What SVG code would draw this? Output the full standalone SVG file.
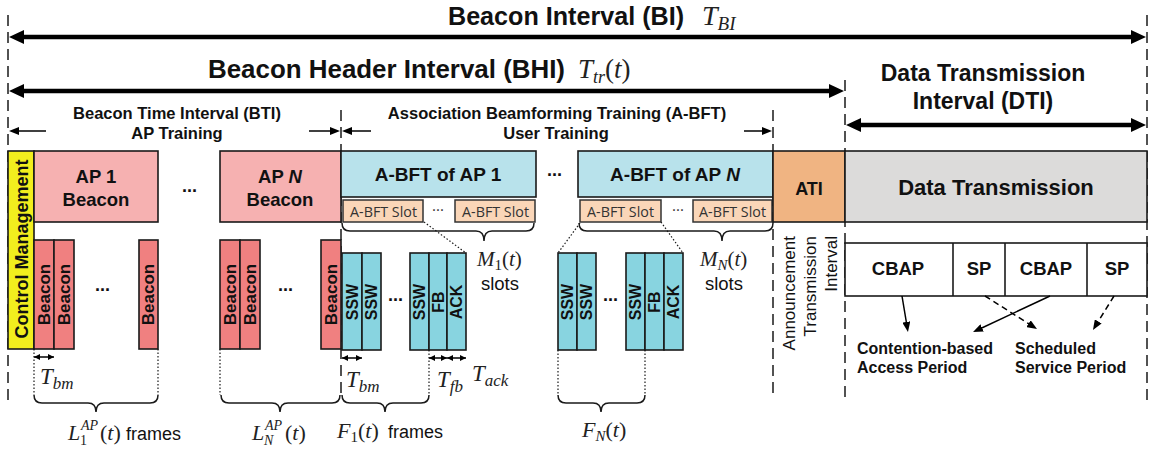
<svg xmlns="http://www.w3.org/2000/svg" width="1151" height="452" viewBox="0 0 1151 452">
<defs>
<style>
.s{font-family:"Liberation Sans",Arial,sans-serif;fill:#111}
.b{font-weight:bold}
.m{font-family:"Liberation Serif","Times New Roman",serif;font-style:italic;fill:#222}
.up{font-style:normal}
.box{stroke:#1a1a1a;stroke-width:1.6}
.fr{stroke:#1a1a1a;stroke-width:1.6}
.slot{fill:#FAD6B8;stroke:#333;stroke-width:1.5}
.slt{font-family:"Open Sans","Noto Sans",sans-serif;font-size:15px;fill:#333}
.dash{stroke:#1a1a1a;stroke-width:1.5;stroke-dasharray:11,6;fill:none}
.dot{stroke:#1a1a1a;stroke-width:1.2;stroke-dasharray:1.5,2;fill:none}
.brace{stroke:#1a1a1a;stroke-width:1.5;fill:none}
.thick{stroke:#000;stroke-width:4.5;fill:none}
.thin{stroke:#000;stroke-width:1.5;fill:none}
.rot{dominant-baseline:central;text-anchor:middle}
</style>
<marker id="big" markerUnits="userSpaceOnUse" viewBox="0 0 16 14" markerWidth="16" markerHeight="14" refX="1" refY="7" orient="auto-start-reverse"><path d="M0,0 L15,7 L0,14 z" fill="#000"/></marker>
<marker id="sm" markerUnits="userSpaceOnUse" viewBox="0 0 10 8" markerWidth="10" markerHeight="8" refX="1" refY="4" orient="auto-start-reverse"><path d="M0,0 L10,4 L0,8 z" fill="#000"/></marker>
<marker id="tiny" markerUnits="userSpaceOnUse" viewBox="0 0 6 6" markerWidth="6" markerHeight="6" refX="6" refY="3" orient="auto-start-reverse"><path d="M0,0 L6,3 L0,6 z" fill="#000"/></marker>
</defs>
<rect width="1151" height="452" fill="#fff"/>

<g id="guides">
<line class="dash" x1="8" y1="15" x2="8" y2="400"/>
<line class="dash" x1="341" y1="110" x2="341" y2="397"/>
<line class="dash" x1="773" y1="110" x2="773" y2="397"/>
<line class="dash" x1="845" y1="80" x2="845" y2="397"/>
<line class="dash" x1="1147" y1="15" x2="1147" y2="402"/>
</g>

<g id="bi">
<text class="s b" x="448" y="25" font-size="25" textLength="236" lengthAdjust="spacingAndGlyphs">Beacon Interval (BI)</text>
<text class="m" x="702" y="25" font-size="28">T<tspan font-size="19" dy="5">BI</tspan></text>
</g>
<g id="bhi">
<text class="s b" x="208" y="78" font-size="25" textLength="357" lengthAdjust="spacingAndGlyphs">Beacon Header Interval (BHI)</text>
<text class="m" x="578" y="78" font-size="27">T<tspan font-size="18" dy="5">tr</tspan><tspan class="up" dy="-5">(</tspan>t<tspan class="up">)</tspan></text>
</g>
<g id="dti">
<text class="s b" x="983" y="81" font-size="23" text-anchor="middle">Data Transmission</text>
<text class="s b" x="983" y="109" font-size="23" text-anchor="middle">Interval (DTI)</text>
</g>
<g id="bti">
<text class="s b" x="177" y="119" font-size="16.5" text-anchor="middle">Beacon Time Interval (BTI)</text>
<text class="s b" x="177" y="139" font-size="16.5" text-anchor="middle">AP Training</text>
</g>
<g id="abft">
<text class="s b" x="557" y="119" font-size="16.5" text-anchor="middle">Association Beamforming Training (A-BFT)</text>
<text class="s b" x="556" y="139" font-size="16.5" text-anchor="middle">User Training</text>
</g>

<g id="control">
<rect class="box" x="8" y="151" width="26" height="198" fill="#F2EE1E"/>
<text class="s b rot" transform="translate(22,249) rotate(-90)" font-size="18">Control Management</text>
</g>
<g id="ap1">
<rect class="box" x="34" y="151" width="124" height="71" fill="#F6B1B1"/>
<text class="s b" x="96" y="183" font-size="18.5" text-anchor="middle">AP 1</text>
<text class="s b" x="96" y="206" font-size="18.5" text-anchor="middle">Beacon</text>
</g>
<text class="s b" x="182" y="192" font-size="18">...</text>
<g id="apn">
<rect class="box" x="220" y="151" width="121" height="71" fill="#F6B1B1"/>
<text class="s b" x="280" y="183" font-size="18.5" text-anchor="middle">AP <tspan font-style="italic">N</tspan></text>
<text class="s b" x="280" y="206" font-size="18.5" text-anchor="middle">Beacon</text>
</g>
<g id="abft1">
<rect class="box" x="341" y="151" width="195" height="46" fill="#B8E2EB"/>
<text class="s b" x="438" y="181" font-size="19" text-anchor="middle">A-BFT of AP 1</text>
<rect class="slot" x="343" y="200" width="80" height="22"/>
<text class="slt" x="350" y="217" font-size="16" textLength="67" lengthAdjust="spacingAndGlyphs">A-BFT Slot</text>
<text class="slt" x="432" y="215" font-size="14">···</text>
<rect class="slot" x="455" y="200" width="80" height="22"/>
<text class="slt" x="462" y="217" font-size="16" textLength="67" lengthAdjust="spacingAndGlyphs">A-BFT Slot</text>
</g>
<text class="s b" x="547" y="176" font-size="18">...</text>
<g id="abftn">
<rect class="box" x="578" y="151" width="195" height="46" fill="#B8E2EB"/>
<text class="s b" x="675" y="181" font-size="19" text-anchor="middle">A-BFT of AP <tspan font-style="italic">N</tspan></text>
<rect class="slot" x="580" y="200" width="81" height="22"/>
<text class="slt" x="587" y="217" font-size="16" textLength="67" lengthAdjust="spacingAndGlyphs">A-BFT Slot</text>
<text class="slt" x="672" y="215" font-size="14">···</text>
<rect class="slot" x="693" y="200" width="79" height="22"/>
<text class="slt" x="699" y="217" font-size="16" textLength="67" lengthAdjust="spacingAndGlyphs">A-BFT Slot</text>
</g>
<g id="ati">
<rect class="box" x="773" y="151" width="72" height="71" fill="#F0B482"/>
<text class="s b" x="809" y="195" font-size="18" text-anchor="middle">ATI</text>
<text class="s" fill="#333" transform="translate(795,236) rotate(-90)" font-size="17" text-anchor="end">Announcement</text>
<text class="s" fill="#333" transform="translate(816,236) rotate(-90)" font-size="17" text-anchor="end">Transmission</text>
<text class="s" fill="#333" transform="translate(837,236) rotate(-90)" font-size="17" text-anchor="end">Interval</text>
</g>
<g id="data">
<rect class="box" x="845" y="151" width="302" height="71" fill="#DCDBDA"/>
<text class="s b" x="996" y="195" font-size="22" text-anchor="middle">Data Transmission</text>
</g>

<g id="beacons1">
<rect class="fr" x="34" y="240" width="20" height="109" fill="#F08080"/>
<rect class="fr" x="54" y="240" width="20" height="109" fill="#F08080"/>
<rect class="fr" x="139" y="240" width="19" height="109" fill="#F08080"/>
<text class="s b rot" transform="translate(44,294.5) rotate(-90)" font-size="17">Beacon</text>
<text class="s b rot" transform="translate(64,294.5) rotate(-90)" font-size="17">Beacon</text>
<text class="s b rot" transform="translate(148.5,294.5) rotate(-90)" font-size="17">Beacon</text>
<text class="s b" x="95" y="291" font-size="18">...</text>
</g>
<g id="beaconsn">
<rect class="fr" x="220" y="240" width="20" height="109" fill="#F08080"/>
<rect class="fr" x="240" y="240" width="20" height="109" fill="#F08080"/>
<rect class="fr" x="321" y="240" width="20" height="109" fill="#F08080"/>
<text class="s b rot" transform="translate(230,294.5) rotate(-90)" font-size="17">Beacon</text>
<text class="s b rot" transform="translate(250,294.5) rotate(-90)" font-size="17">Beacon</text>
<text class="s b rot" transform="translate(331,294.5) rotate(-90)" font-size="17">Beacon</text>
<text class="s b" x="278" y="291" font-size="18">...</text>
</g>
<g id="ssw1">
<rect class="fr" x="342" y="253" width="20" height="97" fill="#88D4E0"/>
<rect class="fr" x="362" y="253" width="19" height="97" fill="#88D4E0"/>
<rect class="fr" x="410" y="253" width="19" height="97" fill="#88D4E0"/>
<rect class="fr" x="429" y="253" width="18" height="97" fill="#88D4E0"/>
<rect class="fr" x="447" y="253" width="19" height="97" fill="#88D4E0"/>
<text class="s b rot" transform="translate(352,302) rotate(-90)" font-size="16">SSW</text>
<text class="s b rot" transform="translate(371.5,302) rotate(-90)" font-size="16">SSW</text>
<text class="s b rot" transform="translate(419.5,302) rotate(-90)" font-size="16">SSW</text>
<text class="s b rot" transform="translate(438,302) rotate(-90)" font-size="16">FB</text>
<text class="s b rot" transform="translate(456.5,302) rotate(-90)" font-size="16">ACK</text>
<text class="s b" x="388" y="301" font-size="18">...</text>
</g>
<g id="sswn">
<rect class="fr" x="558" y="253" width="19" height="97" fill="#88D4E0"/>
<rect class="fr" x="577" y="253" width="19" height="97" fill="#88D4E0"/>
<rect class="fr" x="626" y="253" width="19" height="97" fill="#88D4E0"/>
<rect class="fr" x="645" y="253" width="19" height="97" fill="#88D4E0"/>
<rect class="fr" x="664" y="253" width="19" height="97" fill="#88D4E0"/>
<text class="s b rot" transform="translate(567.5,302) rotate(-90)" font-size="16">SSW</text>
<text class="s b rot" transform="translate(586.5,302) rotate(-90)" font-size="16">SSW</text>
<text class="s b rot" transform="translate(635.5,302) rotate(-90)" font-size="16">SSW</text>
<text class="s b rot" transform="translate(654.5,302) rotate(-90)" font-size="16">FB</text>
<text class="s b rot" transform="translate(673.5,302) rotate(-90)" font-size="16">ACK</text>
<text class="s b" x="603" y="301" font-size="18">...</text>
</g>

<g id="slotlabels">
<text class="m" x="477" y="266" font-size="21">M<tspan class="up" font-size="15" dy="4">1</tspan><tspan class="up" dy="-4">(</tspan>t<tspan class="up">)</tspan></text>
<text class="s" x="500" y="290" font-size="18.5" text-anchor="middle">slots</text>
<text class="m" x="700" y="266" font-size="21">M<tspan font-size="15" dy="4">N</tspan><tspan class="up" dy="-4">(</tspan>t<tspan class="up">)</tspan></text>
<text class="s" x="724" y="290" font-size="18.5" text-anchor="middle">slots</text>
</g>

<g id="dtirow">
<rect class="box" x="845" y="243" width="302" height="53" fill="#fff"/>
<line class="box" x1="953" y1="243" x2="953" y2="296"/>
<line class="box" x1="1005" y1="243" x2="1005" y2="296"/>
<line class="box" x1="1087" y1="243" x2="1087" y2="296"/>
<text class="s b" x="898" y="275" font-size="18.5" text-anchor="middle">CBAP</text>
<text class="s b" x="979" y="275" font-size="18.5" text-anchor="middle">SP</text>
<text class="s b" x="1046" y="275" font-size="18.5" text-anchor="middle">CBAP</text>
<text class="s b" x="1117" y="275" font-size="18.5" text-anchor="middle">SP</text>
</g>
<g id="cbap-label">
<text class="s b" x="857" y="354" font-size="16">Contention-based</text>
<text class="s b" x="857" y="373" font-size="16">Access Period</text>
</g>
<g id="sp-label">
<text class="s b" x="1015" y="354" font-size="16">Scheduled</text>
<text class="s b" x="1015" y="373" font-size="16">Service Period</text>
</g>

<g id="timing">
<text class="m" x="40" y="384" font-size="23">T<tspan font-size="17" dy="5">bm</tspan></text>
<text class="m" x="346" y="387" font-size="23">T<tspan font-size="17" dy="5">bm</tspan></text>
<text class="m" x="437" y="387" font-size="23">T<tspan font-size="17" dy="5">fb</tspan></text>
<text class="m" x="472" y="381" font-size="23">T<tspan font-size="17" dy="5">ack</tspan></text>
<text class="m" x="68" y="440" font-size="22">L<tspan font-size="14" x="81" y="430">AP</tspan><tspan class="up" font-size="14" x="80" y="445">1</tspan><tspan class="up" x="100" y="440">(</tspan>t<tspan class="up">)</tspan></text>
<text class="s" x="126" y="440" font-size="18">frames</text>
<text class="m" x="252" y="440" font-size="22">L<tspan font-size="14" x="265" y="430">AP</tspan><tspan font-size="14" x="264" y="445">N</tspan><tspan class="up" x="285" y="440">(</tspan>t<tspan class="up">)</tspan></text>
<text class="m" x="337" y="438" font-size="22">F<tspan class="up" font-size="15" dy="4">1</tspan><tspan class="up" dy="-4">(</tspan>t<tspan class="up">)</tspan></text>
<text class="s" x="388" y="438" font-size="18">frames</text>
<text class="m" x="582" y="437" font-size="22">F<tspan font-size="15" dy="4">N</tspan><tspan class="up" dy="-4">(</tspan>t<tspan class="up">)</tspan></text>
</g>

<g id="connectors">
<line class="thick" x1="23" y1="37" x2="1132" y2="37" marker-start="url(#big)" marker-end="url(#big)"/>
<line class="thick" x1="23" y1="91" x2="830" y2="91" marker-start="url(#big)" marker-end="url(#big)"/>
<line class="thick" x1="860" y1="125" x2="1132" y2="125" marker-start="url(#big)" marker-end="url(#big)"/>
<line class="thin" x1="46" y1="131" x2="18" y2="131" marker-end="url(#sm)"/>
<line class="thin" x1="309" y1="131" x2="331" y2="131" marker-end="url(#sm)"/>
<line class="thin" x1="371" y1="131" x2="351" y2="131" marker-end="url(#sm)"/>
<line class="thin" x1="744" y1="131" x2="763" y2="131" marker-end="url(#sm)"/>
<line class="thin" x1="902" y1="296" x2="906.5" y2="323" marker-end="url(#sm)"/>
<line class="thin" x1="1050" y1="296" x2="981.2" y2="328.2" marker-end="url(#sm)"/>
<line class="thin" stroke-dasharray="6,4" x1="985" y1="296" x2="1029.4" y2="324.2" marker-end="url(#sm)"/>
<line class="thin" stroke-dasharray="6,4" x1="1114" y1="296" x2="1097.7" y2="322.3" marker-end="url(#sm)"/>
<line class="thin" stroke-width="1.2" x1="34" y1="357" x2="54" y2="357" marker-start="url(#tiny)" marker-end="url(#tiny)"/>
<line class="thin" stroke-width="1.2" x1="342" y1="358" x2="362" y2="358" marker-start="url(#tiny)" marker-end="url(#tiny)"/>
<line class="thin" stroke-width="1.2" x1="429" y1="358" x2="447" y2="358" marker-start="url(#tiny)" marker-end="url(#tiny)"/>
<line class="thin" stroke-width="1.2" x1="447" y1="358" x2="466" y2="358" marker-start="url(#tiny)" marker-end="url(#tiny)"/>
<line class="dot" x1="34" y1="349" x2="34" y2="395"/>
<line class="dot" x1="158" y1="349" x2="158" y2="395"/>
<line class="dot" x1="220" y1="349" x2="220" y2="395"/>
<line class="dot" x1="429" y1="350" x2="429" y2="395"/>
<line class="dot" x1="558" y1="350" x2="558" y2="395"/>
<line class="dot" x1="645" y1="350" x2="645" y2="395"/>
<line class="dot" x1="424" y1="222" x2="466" y2="253"/>
<line class="dot" x1="580" y1="223" x2="558" y2="253"/>
<line class="dot" x1="661" y1="222" x2="683" y2="253"/>
<path class="brace" d="M342 223 Q342 231 350 231 L476 231 Q484 231 484 241 Q484 231 492 231 L526 231 Q534 231 534 223"/>
<path class="brace" d="M579 223 Q579 231 587 231 L714 231 Q722 231 722 241 Q722 231 730 231 L765 231 Q773 231 773 223"/>
<path class="brace" d="M34 395 Q34 403 42 403 L88 403 Q96 403 96 412 Q96 403 104 403 L150 403 Q158 403 158 395"/>
<path class="brace" d="M221 395 Q221 403 229 403 L272 403 Q280 403 280 412 Q280 403 288 403 L332 403 Q340 403 340 395"/>
<path class="brace" d="M342 395 Q342 403 350 403 L377 403 Q385 403 385 412 Q385 403 393 403 L421 403 Q429 403 429 395"/>
<path class="brace" d="M558 395 Q558 403 566 403 L593 403 Q601 403 601 412 Q601 403 609 403 L637 403 Q645 403 645 395"/>
</g>
</svg>
